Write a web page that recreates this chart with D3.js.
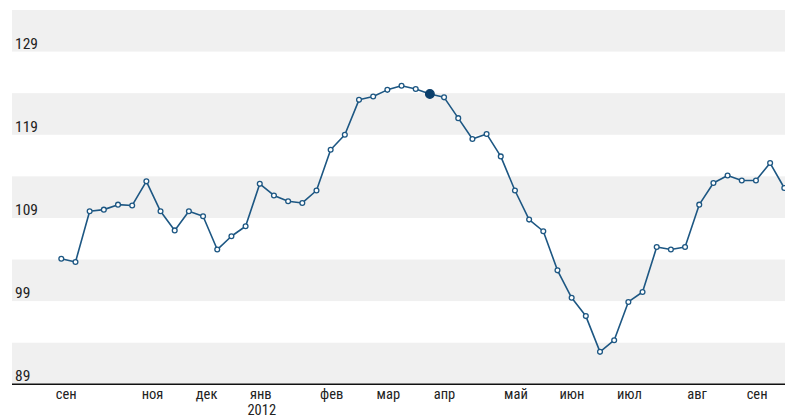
<!DOCTYPE html>
<html>
<head>
<meta charset="utf-8">
<script src="https://cdn.jsdelivr.net/npm/d3@7"></script>
<style>
  html, body { margin: 0; padding: 0; background: #fff; }
  svg text { font-family: "Roboto Condensed", "Liberation Sans Narrow", "Arial Narrow", sans-serif; fill: #222; }
</style>
</head>
<body>
<svg id="chart" width="785" height="418"></svg>
<script>
// Weekly index values (Sept 2011 – Sept 2012)
const values = [
  104.1, 103.7, 109.8, 110.0, 110.6, 110.5, 113.4, 109.8, 107.5, 109.8,
  109.2, 105.2, 106.8, 108.0, 113.1, 111.7, 111.0, 110.8, 112.3, 117.2,
  119.0, 123.2, 123.6, 124.4, 124.9, 124.5, 123.9, 123.5, 121.0, 118.5,
  119.1, 116.4, 112.3, 108.8, 107.4, 102.7, 99.4, 97.2, 92.9, 94.3,
  98.9, 100.1, 105.5, 105.2, 105.5, 110.6, 113.2, 114.1, 113.5, 113.5,
  115.6, 112.6
];
const highlightIndex = 26;

// Month labels and the week index where each sits
const monthLabels = ["сен", "ноя", "дек", "янв", "фев", "мар", "апр", "май", "июн", "июл", "авг", "сен"];
const monthPositions = [0.35, 6.43, 10.25, 14.07, 19.07, 23.07, 27.03, 32.07, 36.02, 40.07, 44.85, 49.08];
const yearLabel = "2012";
const yearLabelMonth = "янв";

// Y axis ticks and band breaks
const yTicks = [89, 99, 109, 119, 129];
const bandEdges = [89, 94, 99, 104, 109, 114, 119, 124, 129, 134];

const svg = d3.select("#chart");
const plotLeft = 12, plotRight = 785, plotTop = 10, plotBottom = 384.3;

const y = d3.scaleLinear().domain([89, 134]).range([plotBottom, plotTop]);
const x = d3.scaleLinear().domain([0, values.length - 1]).range([61.3, 784.3]);

// Alternating bands (gray for the bands starting at 89, 99, ...)
const bands = d3.pairs(bandEdges).filter((d, i) => i % 2 === 0);
svg.append("g").selectAll("rect").data(bands).join("rect")
  .attr("x", plotLeft)
  .attr("width", plotRight - plotLeft)
  .attr("y", d => y(d[1]))
  .attr("height", d => y(d[0]) - y(d[1]))
  .attr("fill", "#f0f0f0");

// Y labels
svg.append("g").selectAll("text").data(yTicks).join("text")
  .attr("x", 15)
  .attr("y", d => y(d) - 3)
  .attr("font-size", 15.5)
  .text(d => d);

// X axis line
svg.append("line")
  .attr("x1", plotLeft).attr("x2", plotRight)
  .attr("y1", plotBottom).attr("y2", plotBottom)
  .attr("stroke", "#111").attr("stroke-width", 1.5);

// Month labels
svg.append("g").selectAll("text").data(monthLabels).join("text")
  .attr("x", (d, i) => x(monthPositions[i]))
  .attr("y", 398.5)
  .attr("text-anchor", "middle")
  .attr("font-size", 14.5)
  .text(d => d);

// Year label under январь
const yi = monthLabels.indexOf(yearLabelMonth);
svg.append("text")
  .attr("x", x(monthPositions[yi]) + 1)
  .attr("y", 414.5)
  .attr("text-anchor", "middle")
  .attr("font-size", 14.5)
  .text(yearLabel);

// Line
const line = d3.line().x((d, i) => x(i)).y(d => y(d));
svg.append("path")
  .datum(values)
  .attr("d", line)
  .attr("fill", "none")
  .attr("stroke", "#1d5783")
  .attr("stroke-width", 1.6)
  .attr("stroke-linejoin", "round");

// Markers
svg.append("g").selectAll("circle").data(values).join("circle")
  .attr("cx", (d, i) => x(i))
  .attr("cy", d => y(d))
  .attr("r", (d, i) => i === highlightIndex ? 4.3 : 2.4)
  .attr("fill", (d, i) => i === highlightIndex ? "#0b3f6b" : "#fff")
  .attr("stroke", (d, i) => i === highlightIndex ? "#0b3f6b" : "#1d5783")
  .attr("stroke-width", 1.3);
</script>
</body>
</html>
